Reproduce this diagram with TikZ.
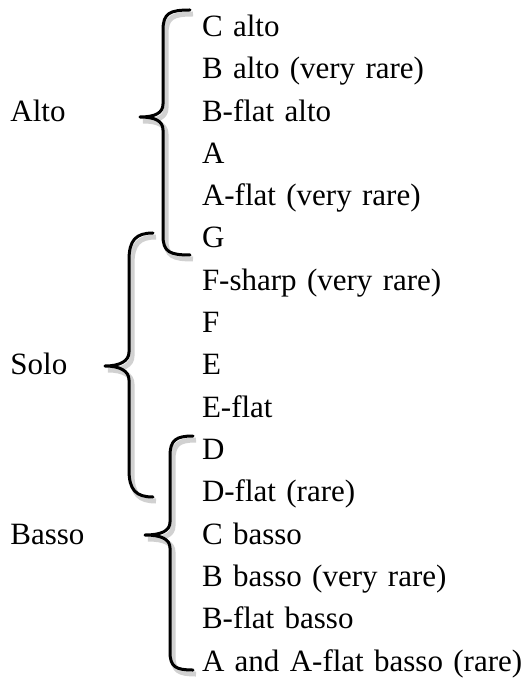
\documentclass[tikz,border=0pt]{standalone}
\usepackage{fontspec}
\setmainfont{Liberation Serif}
\usetikzlibrary{positioning}

\begin{document}
\begin{tikzpicture}[
  x=0.5pt, y=-0.5pt,
  node distance = 0pt,
  item/.style = {
    font=\fontsize{15.5}{19}\selectfont, text width=170pt, align=left,
    inner sep=0pt, outer sep=0pt, text height=12pt, text depth=9.15pt
  },
  voice/.style = {font=\fontsize{15.5}{19}\selectfont, inner sep=0pt, anchor=base west},
  brace/.style = {
    line width=1.5pt, line cap=round, line join=round,
    preaction={draw=black, opacity=0.18, line width=2.5pt,
      transform canvas={shift={(1.5pt,-2pt)}}}
  },
]
\useasboundingbox (0,0) rectangle (521,678);

% the keys, from the highest down
\node[item, anchor=base west] (c-alto) at (202,36.5) {C alto};
\node[item] (b-alto)   [below=of c-alto]   {B alto (very rare)};
\node[item] (bf-alto)  [below=of b-alto]   {B-flat alto};
\node[item] (a)        [below=of bf-alto]  {A};
\node[item] (af)       [below=of a]        {A-flat (very rare)};
\node[item] (g)        [below=of af]       {G};
\node[item] (fs)       [below=of g]        {F-sharp (very rare)};
\node[item] (f)        [below=of fs]       {F};
\node[item] (e)        [below=of f]        {E};
\node[item] (ef)       [below=of e]        {E-flat};
\node[item] (d)        [below=of ef]       {D};
\node[item] (df)       [below=of d]        {D-flat (rare)};
\node[item] (c-basso)  [below=of df]       {C basso};
\node[item] (b-basso)  [below=of c-basso]  {B basso (very rare)};
\node[item] (bf-basso) [below=of b-basso]  {B-flat basso};
\node[item] (a-basso)  [below=of bf-basso] {A and A-flat basso (rare)};

% ranges
\coordinate (lx) at (10,0);
\node[voice] (alto)  at (bf-alto.base -| lx) {Alto};
\node[voice] (solo)  at (e.base -| lx)       {Solo};
\node[voice] (basso) at (c-basso.base -| lx) {Basso};

\draw[brace] (190,10) .. controls (170,10) and (163,13) .. (163,30) -- (163,104)
  .. controls (163,113) and (155,117) .. (140,117)
  .. controls (155,117) and (163,121) .. (163,130) -- (163,236)
  .. controls (163,252) and (170,255) .. (190,255);

\draw[brace] (153,233) .. controls (136,233) and (129,240) .. (129,260) -- (129,352)
  .. controls (129,361) and (120,366) .. (105,366)
  .. controls (120,366) and (129,371) .. (129,380) -- (129,470)
  .. controls (129,490) and (136,497) .. (153,497);

\draw[brace] (193,436) .. controls (176,436) and (170,440) .. (170,456) -- (170,522)
  .. controls (170,531) and (161,535) .. (145,535)
  .. controls (161,535) and (170,539) .. (170,548) -- (170,652)
  .. controls (170,667) and (176,670) .. (193,670);

\end{tikzpicture}
\end{document}
